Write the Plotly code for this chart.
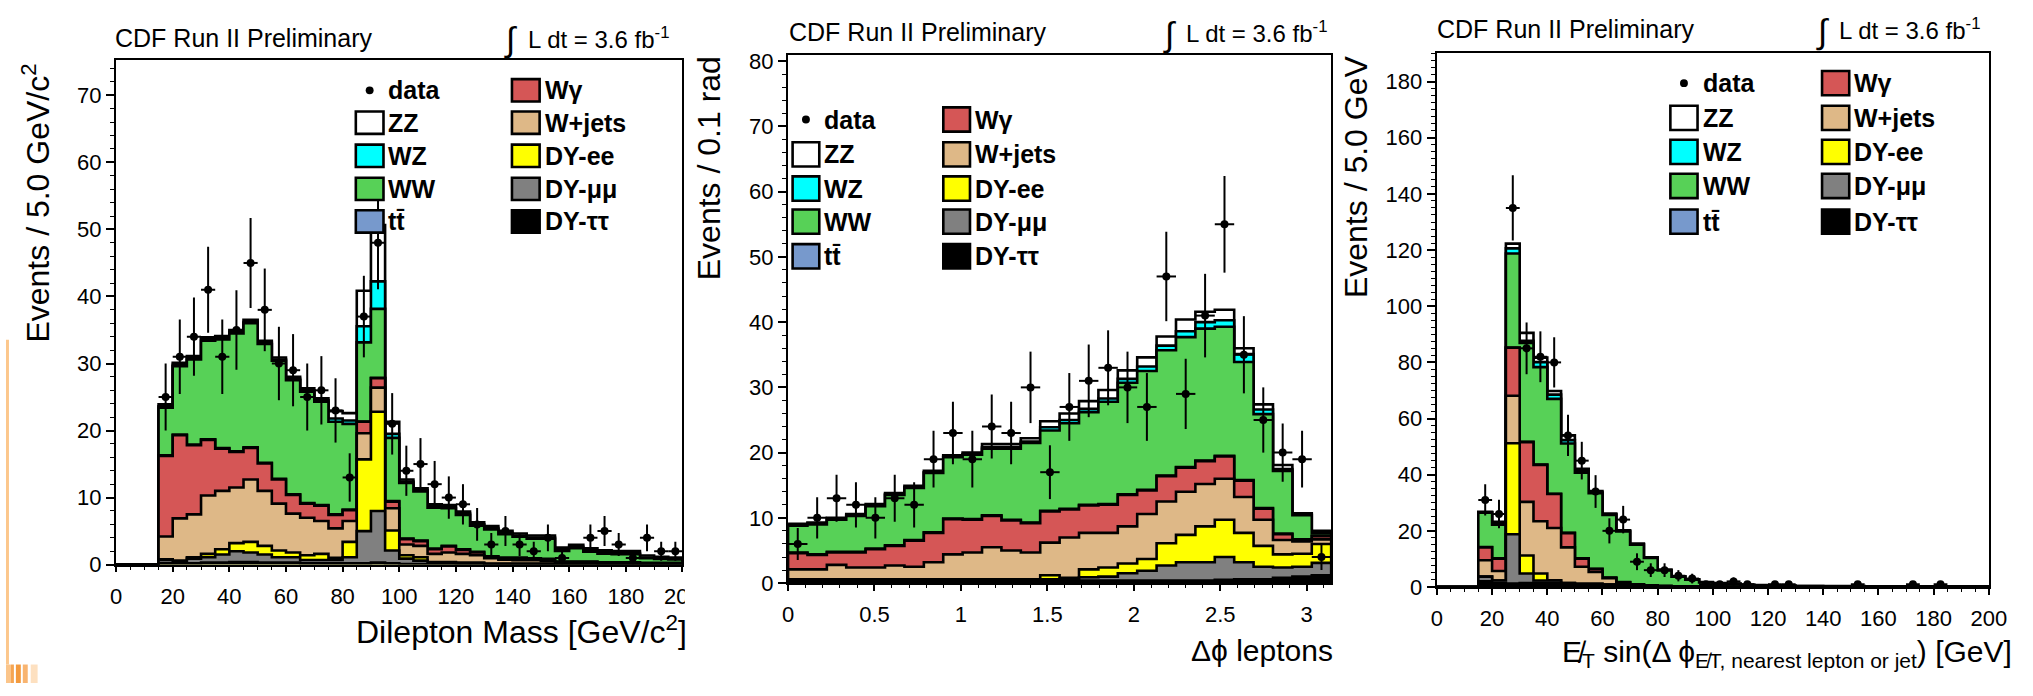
import numpy as np
import plotly.graph_objects as go

W, H = 2033, 696
FONT = "Liberation Sans, Arial, Helvetica, sans-serif"

# ---------------------------------------------------------------- data
# Panel 1 : dilepton mass, 5 GeV/c^2 bins from 0 to 200 (first three bins empty)
p1_edges = list(range(0, 205, 5))
p1_tautau = [0, 0, 0, 0.2, 0.2, 0.2, 0.3, 0.3, 0.4, 0.4, 0.3, 0.3, 0.3, 0.2, 0.2, 0.2, 0.2, 0.2, 0.3, 0.2,
             0.1, 0.1, 0.1, 0.1, 0.1, 0.1, 0.05, 0.05, 0.05, 0.05, 0.05, 0.03, 0.03, 0.03, 0.03, 0.03, 0.03,
             0.02, 0.02, 0.02]
p1_mumu = [0, 0, 0, 0.5, 0.3, 0.7, 0.8, 1.2, 1.6, 1.4, 1.2, 0.8, 0.8, 0.5, 0.5, 0.5, 0.9, 4.8, 7.7, 1.9,
           0.8, 0.5, 0.2, 0.2, 0.1, 0.1, 0.05, 0.05, 0.05, 0.05, 0.05, 0.03, 0.03, 0.03, 0.03, 0.03, 0.03,
           0.02, 0.02, 0.02]
p1_ee = [0, 0, 0, 0.1, 0.1, 0.2, 0.5, 0.8, 1.2, 1.6, 1.3, 1.0, 0.7, 0.7, 0.9, 0.3, 2.3, 10.7, 14.8, 3.0,
         0.5, 0.5, 0.1, 0.1, 0.1, 0.1, 0.05, 0.05, 0.05, 0.05, 0.05, 0.03, 0.03, 0.03, 0.03, 0.03, 0.03,
         0.02, 0.02, 0.02]
p1_wjets = [0, 0, 0, 3.4, 6.3, 6.4, 8.7, 8.7, 8.3, 9.3, 8.2, 7.0, 5.8, 5.6, 4.9, 4.4, 3.1, 3.9, 3.6, 3.3,
            1.6, 1.7, 1.2, 1.4, 1.3, 1.1, 0.8, 0.6, 0.5, 0.5, 0.4, 0.2, 0.2, 0.2, 0.1, 0.1, 0.1,
            0.1, 0.1, 0.1]
p1_wgamma = [0, 0, 0, 12.0, 12.4, 10.3, 8.3, 6.3, 5.3, 4.7, 4.1, 3.6, 2.8, 2.1, 2.3, 2.0, 1.6, 1.7, 1.4, 1.0,
             0.8, 0.7, 0.7, 0.9, 0.6, 0.4, 0.2, 0.2, 0.3, 0.2, 0.2, 0.1, 0.1, 0.1, 0.1, 0.1, 0.1,
             0.05, 0.05, 0.05]
p1_ttbar = [0, 0, 0, 0.1, 0.1, 0.1, 0.1, 0.1, 0.1, 0.1, 0.1, 0.1, 0.1, 0.1, 0.1, 0.1, 0.1, 0.05, 0.05, 0.1,
            0.1, 0.1, 0.1, 0.1, 0.1, 0.1, 0.1, 0.1, 0.1, 0.1, 0.1, 0.05, 0.05, 0.05, 0.05, 0.05, 0.05,
            0.05, 0.05, 0.05]
p1_ww = [0, 0, 0, 7.1, 10.2, 12.7, 14.7, 16.2, 17.6, 18.5, 17.7, 17.6, 17.0, 16.6, 15.4, 13.8, 12.8, 11.8, 10.3, 9.4,
         8.3, 7.3, 6.1, 5.6, 5.1, 3.9, 4.0, 3.5, 3.1, 2.9, 3.0, 1.6, 2.0, 1.5, 1.3, 1.2, 1.2,
         0.7, 0.6, 0.5]
p1_wz = [0, 0, 0, 0.2, 0.2, 0.2, 0.2, 0.2, 0.2, 0.2, 0.2, 0.2, 0.2, 0.2, 0.2, 0.5, 0.5, 2.4, 4.1, 0.6,
         0.2, 0.2, 0.2, 0.2, 0.2, 0.2, 0.2, 0.2, 0.2, 0.2, 0.2, 0.2, 0.2, 0.2, 0.2, 0.2, 0.2,
         0.1, 0.1, 0.1]
p1_zz = [0, 0, 0, 0.3, 0.3, 0.3, 0.3, 0.3, 0.3, 0.3, 0.3, 0.3, 0.3, 0.3, 0.3, 1.1, 1.1, 5.3, 8.4, 1.8,
         0.3, 0.3, 0.3, 0.3, 0.3, 0.3, 0.3, 0.3, 0.3, 0.3, 0.3, 0.3, 0.3, 0.3, 0.3, 0.3, 0.3,
         0.3, 0.2, 0.2]
p1_data = [0, 0, 0, 25, 31, 34, 41, 31, 35, 45, 38, 30, 29, 25, 26, 23, 13, 37, 48, 21,
           14, 15, 12, 10, 9, 6, 3, 5, 3, 2, 4, 1, 0, 4, 5, 3, 1, 4, 2, 2]

# Panel 2 : delta phi between leptons, 28 bins from 0 to pi
p2_nbins = 28
p2_edges = [k * np.pi / p2_nbins for k in range(p2_nbins + 1)]
p2_tautau = [0.5] * 15 + [0.4] * 7 + [0.5, 0.6, 0.6, 0.8, 1.0, 1.2]
p2_mumu = [0.05] * 13 + [0.1, 0.2, 0.5, 0.6, 1.1, 1.5, 2.3, 2.8, 2.8, 3.5, 2.6, 1.9, 1.6, 1.5, 1.9]
p2_ee = [0.05] * 13 + [0.6, 0.1, 1.2, 1.4, 1.5, 1.8, 3.4, 4.2, 5.5, 5.7, 4.5, 3.2, 2.0, 2.0, 2.9]
p2_wjets = [1.5, 1.5, 2.2, 1.8, 1.8, 2.1, 1.9, 2.6, 3.8, 4.1, 4.9, 4.4, 4.1, 5.0, 6.2, 5.6, 5.3, 5.7,
            6.9, 6.4, 6.6, 6.5, 6.3, 5.5, 4.0, 2.2, 1.9, 0.7]
p2_wgamma = [2.5, 2.2, 1.9, 2.3, 2.8, 3.0, 4.0, 4.5, 5.4, 5.0, 4.8, 4.6, 4.5, 4.8, 4.3, 4.2, 4.3, 4.8,
             3.6, 3.9, 3.7, 3.5, 3.4, 2.5, 1.7, 0.9, 0.2, 0.5]
p2_ttbar = [0.1] * 28
p2_ww = [4.1, 4.6, 4.9, 5.5, 6.5, 7.7, 8.0, 9.1, 9.4, 9.9, 10.2, 10.9, 12.2, 12.3, 13.1, 14.2, 15.7, 17.1,
         18.2, 19.2, 19.9, 20.2, 19.8, 18.1, 14.4, 9.6, 3.7, 0.4]
p2_wz = [0.1] * 10 + [0.2] * 3 + [0.5, 0.5, 0.5, 0.5, 0.6, 0.7, 0.7, 0.9, 1.0, 1.0, 1.2, 0.7, 0.3, 0.1, 0.1]
p2_zz = [0.2] * 10 + [0.5] * 3 + [0.9, 1.0, 1.2, 1.3, 1.3, 1.4, 1.4, 1.8, 1.6, 1.6, 0.9, 0.8, 0.6, 0.2, 0.2]
p2_data = [6, 10, 13, 12, 10, 13, 12, 19, 23, 19, 24, 23, 30, 17, 27, 31, 33, 30, 27, 47, 29, 41, 55, 35,
           25, 20, 19, 4]

# Panel 3 : MET*sin(dphi), 5 GeV bins from 0 to 200 (first three bins empty)
p3_edges = list(range(0, 205, 5))
p3_tautau = [0, 0, 0, 2.0, 1.4, 1.2, 1.4, 1.5, 1.5, 1.2, 1.0, 1.0, 0.8, 0.6, 0.3, 0.2, 0.1, 0.1, 0.05] + [0.02] * 21
p3_mumu = [0, 0, 0, 1.7, 0.9, 17.6, 3.4, 0.8, 0.8, 0.2, 0.1, 0.1, 0.1, 0.05, 0.05] + [0] * 25
p3_ee = [0, 0, 0, 0, 0, 32.4, 6.4, 2.5, 0.1] + [0] * 31
p3_wjets = [0, 0, 0, 5.8, 3.4, 16.9, 19.1, 18.6, 18.6, 12.7, 6.1, 4.3, 2.2, 0.9, 0.5, 0.3, 0.2, 0.1, 0.1,
            0.05, 0.05, 0.05] + [0.02] * 18
p3_wgamma = [0, 0, 0, 4.6, 4.4, 17.1, 21.3, 20.1, 12.1, 5.1, 2.9, 1.0, 0.2, 0.1, 0.1, 0.05] + [0.02] * 24
p3_ttbar = [0, 0, 0] + [0.1] * 11 + [0.05] * 7 + [0.02] * 19
p3_ww = [0, 0, 0, 12.3, 12.0, 33.5, 35.2, 34.7, 33.8, 31.8, 30.5, 26.9, 22.3, 18.0, 14.1, 9.7, 5.5, 3.4, 2.4,
         1.5, 1.1, 0.95, 0.6, 0.45, 0.35, 0.28, 0.2, 0.2, 0.18, 0.15, 0.15, 0.12, 0.1, 0.1, 0.1, 0.08, 0.08,
         0.06, 0.05, 0.05]
p3_wz = [0, 0, 0, 0.1, 0.3, 1.8, 0.8, 1.8, 1.5, 1.2, 0.6, 0.3, 0.2, 0.15, 0.15, 0.1, 0.1, 0.05, 0.05, 0.05,
         0.05, 0.05] + [0.02] * 18
p3_zz = [0, 0, 0, 0.2, 0.7, 1.7, 2.8, 1.6, 1.3, 1.7, 0.8, 0.5, 0.3, 0.25, 0.25, 0.2, 0.2, 0.1, 0.1, 0.1,
         0.1, 0.1, 0.1, 0.1, 0.1, 0.1] + [0.05] * 14
p3_data = [0, 0, 0, 31, 26, 135, 85, 82, 80, 54, 45, 34, 20, 24, 9, 6, 6, 4, 3, 1,
           1, 2, 1, 0, 1, 1, 0, 0, 0, 0, 1, 0, 0, 0, 1, 0, 1, 0, 0, 0]

# ---------------------------------------------------------------- styling
PROCESS_NAMES = ["DY-\u03c4\u03c4", "DY-\u03bc\u03bc", "DY-ee", "W+jets", "W\u03b3", "tt\u0304", "WW", "WZ", "ZZ"]
PROCESS_COLORS = ["#000000", "#808080", "#ffff00", "#deb887", "#d55656", "#7799cc", "#57d157", "#00ffff", "#ffffff"]


def fx(px):
    return px / W


def fy(py):
    return 1 - py / H


fig = go.Figure()

panels = [
    dict(edges=p1_edges,
         comps=[p1_tautau, p1_mumu, p1_ee, p1_wjets, p1_wgamma, p1_ttbar, p1_ww, p1_wz, p1_zz],
         data=p1_data, xpx=(111.4, 684.5), ypx=(56, 574.3), xr=[0, 200], yr=[0, 75.2],
         xd=20, xm=5, yd=10, ym=2),
    dict(edges=p2_edges,
         comps=[p2_tautau, p2_mumu, p2_ee, p2_wjets, p2_wgamma, p2_ttbar, p2_ww, p2_wz, p2_zz],
         data=p2_data, xpx=(791.4, 1341), ypx=(50, 593.3), xr=[0, np.pi], yr=[0, 81.0],
         xd=0.5, xm=0.1, yd=10, ym=2),
    dict(edges=p3_edges,
         comps=[p3_tautau, p3_mumu, p3_ee, p3_wjets, p3_wgamma, p3_ttbar, p3_ww, p3_wz, p3_zz],
         data=p3_data, xpx=(1448, 2006.5), ypx=(48.3, 597.3), xr=[0, 200], yr=[0, 190.2],
         xd=20, xm=5, yd=20, ym=2.5),
]

tickfont = dict(family=FONT, size=22, color="black")
layout_axes = {}
for i, p in enumerate(panels, start=1):
    xa = "x" if i == 1 else f"x{i}"
    ya = "y" if i == 1 else f"y{i}"
    edges = np.array(p["edges"], dtype=float)
    n = len(edges) - 1
    cum = np.zeros(n)
    levels = []
    for vals, name, col in zip(p["comps"], PROCESS_NAMES, PROCESS_COLORS):
        cum = cum + np.array(vals, dtype=float)
        levels.append((name, cum.copy(), col))
    for name, c, col in reversed(levels):
        xs = [edges[0]] + list(edges) + [edges[-1]]
        ys = [0] + list(c) + [c[-1], 0]
        fig.add_trace(go.Scatter(x=xs, y=ys, mode="lines", line=dict(shape="hv", color="black", width=2.6),
                                 fill="toself", fillcolor=col, name=name, xaxis=xa, yaxis=ya,
                                 hoverinfo="skip"))
    d = np.array(p["data"], dtype=float)
    centers = (edges[:-1] + edges[1:]) / 2
    halfw = (edges[1:] - edges[:-1]) / 2
    m = d > 0
    fig.add_trace(go.Scatter(x=centers[m], y=d[m], mode="markers", name="data",
                             marker=dict(color="black", size=8),
                             error_y=dict(type="data", array=np.sqrt(d[m]), color="black", thickness=2, width=0),
                             error_x=dict(type="data", array=halfw[m], color="black", thickness=2, width=0),
                             xaxis=xa, yaxis=ya))
    common = dict(showline=True, linecolor="black", linewidth=1.5, mirror=True, ticks="outside",
                  tickcolor="black", tickwidth=1.5, showgrid=False, zeroline=False, tickfont=tickfont,
                  tickmode="linear", tick0=0)
    layout_axes["xaxis" if i == 1 else f"xaxis{i}"] = dict(
        common, domain=[fx(p["xpx"][0]), fx(p["xpx"][1])], range=p["xr"], dtick=p["xd"], ticklen=6,
        anchor=ya, ticklabelstandoff=5,
        minor=dict(dtick=p["xm"], tick0=0, ticks="outside", ticklen=3.5, tickwidth=1.2, tickcolor="black"))
    layout_axes["yaxis" if i == 1 else f"yaxis{i}"] = dict(
        common, domain=[fy(p["ypx"][1]), fy(p["ypx"][0])], range=p["yr"], dtick=p["yd"], ticklen=8.5,
        anchor=xa,
        minor=dict(dtick=p["ym"], tick0=0, ticks="outside", ticklen=4.5, tickwidth=1.2, tickcolor="black"))

# ---------------------------------------------------------------- text
annotations = []
shapes = []


def ann(x, y, text, size, xanchor="left", yanchor="middle", angle=0, bold=False):
    annotations.append(dict(x=fx(x), y=fy(y), xref="paper", yref="paper", text=("<b>%s</b>" % text) if bold else text,
                            showarrow=False, xanchor=xanchor, yanchor=yanchor, textangle=angle,
                            font=dict(family=FONT, size=size, color="black")))


# headers
for (tx, ty, ix, iy, lx) in [(108, 33, 511, 34, 526), (790, 27, 1177, 29, 1192), (1446, 24, 1838, 26, 1853)]:
    ann(tx, ty, "CDF Run II Preliminary", 25)
    ann(ix, iy, "\u222b", 34, xanchor="center")
    ann(lx, ty, "L dt = 3.6 fb<sup>-1</sup>", 24)

# axis titles
ann(30, 57, "Events / 5.0 GeV/c<sup>2</sup>", 32, xanchor="center", yanchor="top", angle=-90)
ann(711, 50, "Events / 0.1 rad", 32, xanchor="center", yanchor="top", angle=-90)
ann(1366, 48, "Events / 5.0 GeV", 32, xanchor="center", yanchor="top", angle=-90)
ann(691, 641, "Dilepton Mass [GeV/c<sup>2</sup>]", 32, xanchor="right")
ann(1345, 663, "\u0394\u03d5 leptons", 30, xanchor="right")
ann(1573, 666, "E\u0338<sub>T</sub> sin(\u0394 \u03d5<sub>E\u0338T, nearest lepton or jet</sub>) [GeV]", 30,
    xanchor="left")

# legends (two columns per panel)
col1_labels = ["data", "ZZ", "WZ", "WW", "tt\u0304"]
col1_colors = [None, PROCESS_COLORS[8], PROCESS_COLORS[7], PROCESS_COLORS[6], PROCESS_COLORS[5]]
col2_labels = ["W\u03b3", "W+jets", "DY-ee", "DY-\u03bc\u03bc", "DY-\u03c4\u03c4"]
col2_colors = [PROCESS_COLORS[4], PROCESS_COLORS[3], PROCESS_COLORS[2], PROCESS_COLORS[1], PROCESS_COLORS[0]]

legend_specs = [
    dict(c1=368, c2=526, rows=[86.7, 120, 154, 188, 221.5], bw=28, bh=23),
    dict(c1=809.5, c2=962, rows=[116.7, 152.5, 187.7, 221.7, 257.3], bw=27, bh=25),
    dict(c1=1698, c2=1851.5, rows=[79.3, 115, 150, 185, 221.7], bw=27.5, bh=25),
]
for spec in legend_specs:
    for col, labels, colors in [(spec["c1"], col1_labels, col1_colors), (spec["c2"], col2_labels, col2_colors)]:
        for ry, lab, colr in zip(spec["rows"], labels, colors):
            if colr is None:
                shapes.append(dict(type="circle", xref="paper", yref="paper", layer="above",
                                   x0=fx(col - 4), x1=fx(col + 4), y0=fy(ry + 4), y1=fy(ry - 4),
                                   fillcolor="black", line=dict(color="black", width=0)))
            else:
                shapes.append(dict(type="rect", xref="paper", yref="paper", layer="above",
                                   x0=fx(col - spec["bw"] / 2), x1=fx(col + spec["bw"] / 2),
                                   y0=fy(ry + spec["bh"] / 2), y1=fy(ry - spec["bh"] / 2),
                                   fillcolor=colr, line=dict(color="black", width=2.6)))
            ann(col + spec["bw"] / 2 + 3, ry, lab, 25, bold=True)

# white cover where the middle picture overlaps the first one (clips the last tick label)
shapes.append(dict(type="rect", xref="paper", yref="paper", layer="above",
                   x0=fx(687), x1=fx(735), y0=fy(622), y1=fy(577), fillcolor="white", line=dict(width=0)))

# orange slide decoration on the left edge
shapes.append(dict(type="rect", xref="paper", yref="paper", layer="above",
                   x0=0, x1=fx(3), y0=fy(677), y1=fy(343), fillcolor="#fcc78c", line=dict(width=0)))
for (a, b, c) in [(0, 5, "#fbc58a"), (5, 8, "#f6a552"), (10, 15, "#f39a3e"), (17, 22, "#f8b470"),
                  (25, 32, "#fde0c0")]:
    shapes.append(dict(type="rect", xref="paper", yref="paper", layer="above",
                       x0=fx(a), x1=fx(b), y0=0, y1=fy(677), fillcolor=c, line=dict(width=0)))

fig.update_layout(
    width=W, height=H, autosize=False,
    margin=dict(l=0, r=0, t=0, b=0),
    paper_bgcolor="white", plot_bgcolor="white",
    showlegend=False,
    annotations=annotations, shapes=shapes,
    font=dict(family=FONT, color="black"),
    **layout_axes,
)

fig.write_html("out.html")
